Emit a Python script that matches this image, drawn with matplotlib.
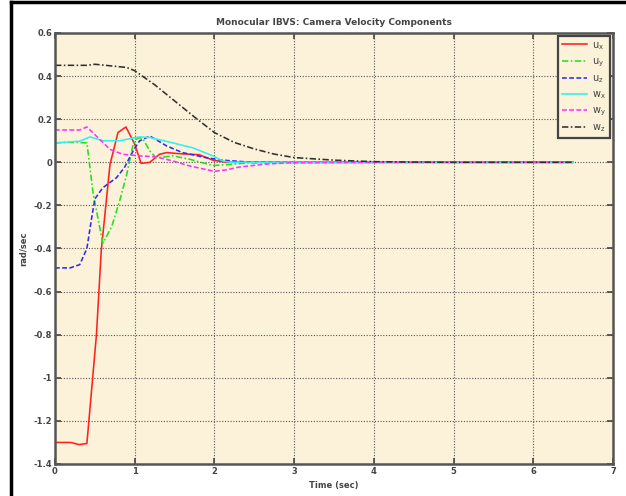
import matplotlib
matplotlib.use("Agg")
import matplotlib.pyplot as plt
from matplotlib.lines import Line2D

# time samples and velocity components (rad/sec)
t_ux = [0, 0.2, 0.3, 0.4, 0.52, 0.58, 0.69, 0.79, 0.89, 1.0, 1.08, 1.19, 1.31, 1.4, 1.56, 1.81, 1.98, 2.15, 3.0, 4.0, 5.0, 6.0, 6.5]
ux = [-1.3, -1.3, -1.31, -1.305, -0.8, -0.41, -0.01, 0.138, 0.164, 0.084, -0.005, 0.0, 0.037, 0.045, 0.04, 0.035, 0.01, 0.0, 0.0, 0.0, 0.0, 0.0, 0.0]

t_uy = [0, 0.2, 0.4, 0.48, 0.6, 0.71, 0.81, 0.9, 0.98, 1.04, 1.1, 1.19, 1.27, 1.48, 1.69, 1.98, 2.2, 2.4, 3.0, 4.0, 5.0, 6.0, 6.5]
uy = [0.09, 0.093, 0.09, -0.149, -0.375, -0.30, -0.18, -0.056, 0.084, 0.114, 0.11, 0.053, 0.02, 0.03, 0.014, -0.015, -0.01, -0.003, 0.0, 0.0, 0.0, 0.0, 0.0]

t_uz = [0, 0.19, 0.31, 0.4, 0.46, 0.5, 0.6, 0.77, 0.87, 0.98, 1.06, 1.19, 1.4, 1.6, 1.9, 2.1, 2.4, 3.0, 4.0, 5.0, 6.0, 6.5]
uz = [-0.49, -0.49, -0.475, -0.40, -0.258, -0.17, -0.118, -0.072, -0.025, 0.053, 0.099, 0.122, 0.076, 0.045, 0.021, 0.01, 0.002, 0.0, 0.0, 0.0, 0.0, 0.0]

t_wx = [0, 0.31, 0.44, 0.6, 0.81, 1.06, 1.19, 1.48, 1.73, 1.98, 2.1, 2.2, 3.0, 4.0, 5.0, 6.0, 6.5]
wx = [0.09, 0.098, 0.118, 0.10, 0.10, 0.118, 0.115, 0.09, 0.067, 0.03, 0.007, 0.0, 0.0, 0.0, 0.0, 0.0, 0.0]

t_wy = [0, 0.31, 0.4, 0.54, 0.69, 0.85, 1.06, 1.27, 1.48, 1.69, 2.0, 2.15, 2.31, 2.65, 2.98, 4.0, 5.0, 6.0, 6.5]
wy = [0.15, 0.15, 0.164, 0.114, 0.06, 0.037, 0.03, 0.025, 0.006, -0.017, -0.042, -0.035, -0.022, -0.008, -0.002, 0.0, 0.0, 0.0, 0.0]

t_wz = [0, 0.4, 0.5, 0.9, 1.0, 1.25, 1.5, 1.75, 2.0, 2.25, 2.5, 2.75, 3.0, 3.5, 4.0, 4.5, 5.0, 6.0, 6.5]
wz = [0.45, 0.45, 0.455, 0.44, 0.425, 0.36, 0.285, 0.21, 0.138, 0.092, 0.062, 0.038, 0.022, 0.01, 0.003, 0.001, 0.0, 0.0, 0.0]

x_ticks = [0, 1, 2, 3, 4, 5, 6, 7]
y_ticks = [-1.4, -1.2, -1, -0.8, -0.6, -0.4, -0.2, 0, 0.2, 0.4, 0.6]
y_tick_labels = ["-1.4", "-1.2", "-1", "-0.8", "-0.6", "-0.4", "-0.2", "0", "0.2", "0.4", "0.6"]

W, H = 626, 496
fig = plt.figure(figsize=(W / 100, H / 100), dpi=100)
fig.patch.set_facecolor("white")
ax = fig.add_axes([55 / W, 1 - 464 / H, (613 - 55) / W, (464 - 33) / H])
ax.set_facecolor("#fcf2d9")

dashdot = (0, (4, 1.5, 1, 1.5))
series = [
    (t_ux, ux, "#ff2020", "-", r"$\mathregular{u_x}$"),
    (t_uy, uy, "#20e020", dashdot, r"$\mathregular{u_y}$"),
    (t_uz, uz, "#2c2cf0", (0, (3, 1.5)), r"$\mathregular{u_z}$"),
    (t_wx, wx, "#30f0f0", "-", r"$\mathregular{w_x}$"),
    (t_wy, wy, "#ff30ff", (0, (3, 1.5)), r"$\mathregular{w_y}$"),
    (t_wz, wz, "#303030", dashdot, r"$\mathregular{w_z}$"),
]
for t, v, c, ls, lab in series:
    ax.plot(t, v, color=c, linestyle=ls, linewidth=1.15, label=lab)

ax.set_xlim(0, 7)
ax.set_ylim(-1.4, 0.6)
ax.set_xticks(x_ticks)
ax.set_yticks(y_ticks)
ax.set_yticklabels(y_tick_labels)
ax.tick_params(direction="in", length=4, width=1.2, colors="#444444", labelsize=6,
               right=True, top=True, pad=2)
for lbl in ax.get_xticklabels() + ax.get_yticklabels():
    lbl.set_fontweight("bold")
ax.grid(True, color="#555555", linestyle=(0, (1, 1.5)), linewidth=0.8)
for s in ax.spines.values():
    s.set_color("#555555")
    s.set_linewidth(1.8)

ax.set_title("Monocular IBVS: Camera Velocity Components", fontsize=6.5,
             fontweight="bold", color="#444444", pad=6)
ax.set_xlabel("Time (sec)", fontsize=6, fontweight="bold", color="#444444", labelpad=4)
ax.set_ylabel("rad/sec", fontsize=6, fontweight="bold", color="#444444", labelpad=4)

leg = ax.legend(loc="upper right", fontsize=7, frameon=True, fancybox=False,
                handlelength=2.6, handletextpad=0.5, borderpad=0.4,
                labelspacing=0.45, borderaxespad=0.3)
leg.get_frame().set_edgecolor("#444444")
leg.get_frame().set_linewidth(1.6)
leg.get_frame().set_facecolor("#fcf2d9")
leg.get_frame().set_alpha(1)
for txt in leg.get_texts():
    txt.set_color("#444444")

# outer border on top and left
fig.add_artist(Line2D([10.5 / W, 10.5 / W], [0, 1 - 2 / H], color="black", linewidth=2.5,
                      transform=fig.transFigure))
fig.add_artist(Line2D([10.5 / W, 1], [1 - 2 / H, 1 - 2 / H], color="black", linewidth=2.5,
                      transform=fig.transFigure))

fig.savefig("out.png", dpi=100)
